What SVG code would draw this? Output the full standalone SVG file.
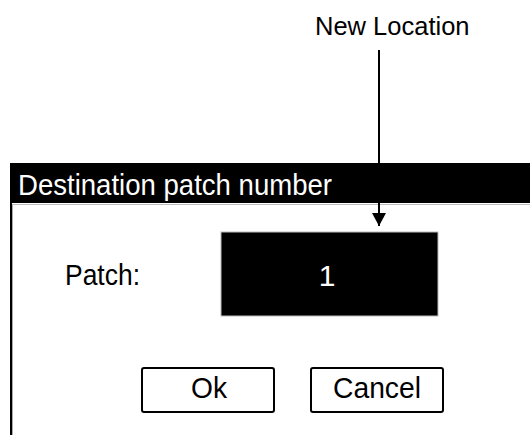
<svg xmlns="http://www.w3.org/2000/svg" width="530" height="435" viewBox="0 0 530 435">
<defs>
<style>
.ui{font-family:"Liberation Sans",Arial,sans-serif;font-size:30px;}
.lbl{font-family:"Liberation Sans",Arial,sans-serif;font-size:25.5px;fill:#000;}
.btn{fill:#fff;stroke:#000;stroke-width:2;}
</style>
<marker id="ah" markerWidth="13" markerHeight="14" refX="13" refY="7" orient="auto" markerUnits="userSpaceOnUse">
<polygon points="0,0 13,7 0,14" fill="#000"/>
</marker>
</defs>
<rect width="530" height="435" fill="#fff"/>
<g id="dialog">
<rect x="10" y="163" width="520" height="40" fill="#000"/>
<line x1="12" y1="204.5" x2="530" y2="204.5" stroke="#bbb" stroke-width="1"/>
<line x1="11" y1="203" x2="11" y2="435" stroke="#000" stroke-width="2"/>
<line x1="12.5" y1="205" x2="12.5" y2="435" stroke="#aaa" stroke-width="1"/>
<text class="ui" x="18" y="195" fill="#fff" textLength="314" lengthAdjust="spacingAndGlyphs">Destination patch number</text>
</g>
<g id="patch-label">
<text class="ui" x="65" y="285" fill="#000" textLength="75" lengthAdjust="spacingAndGlyphs">Patch:</text>
</g>
<g id="patch-field">
<rect x="221" y="232" width="217" height="84" fill="#000" stroke="#bbb" stroke-width="1"/>
<text class="ui" x="327" y="286" fill="#fff" text-anchor="middle">1</text>
</g>
<g id="ok-button">
<rect class="btn" x="142" y="368" width="132" height="44" rx="2"/>
<text class="ui" x="191" y="398" fill="#000" textLength="36" lengthAdjust="spacingAndGlyphs">Ok</text>
</g>
<g id="cancel-button">
<rect class="btn" x="311" y="368" width="132" height="44" rx="2"/>
<text class="ui" x="333" y="398" fill="#000" textLength="88" lengthAdjust="spacingAndGlyphs">Cancel</text>
</g>
<g id="new-location">
<text class="lbl" x="315" y="35">New Location</text>
</g>
<g id="connectors">
<line x1="379" y1="50" x2="379" y2="226" stroke="#000" stroke-width="2" marker-end="url(#ah)"/>
</g>
</svg>
